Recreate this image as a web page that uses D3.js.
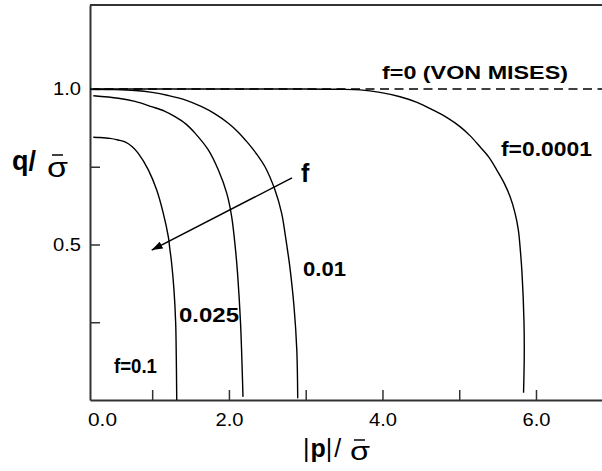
<!DOCTYPE html>
<html><head><meta charset="utf-8">
<script src="https://cdn.jsdelivr.net/npm/d3@7"></script>
<style>body{margin:0;background:#fff}svg{display:block}</style>
</head><body>
<svg id="chart" width="602" height="471"></svg>
<script>
// ---- data (p = |p|/sigma, q = q/sigma) ----
const curveF01P   = [0.233,0.320,0.451,0.555,0.646,0.737,0.819,0.950,1.059,1.145,1.210,1.232,1.249,1.284,1.306,1.314,1.320];
const curveF01Q   = [0.845,0.844,0.841,0.836,0.830,0.815,0.793,0.740,0.675,0.600,0.525,0.482,0.450,0.354,0.248,0.139,0.000];
const curveF0025P = [0.233,0.559,0.776,0.994,1.167,1.297,1.441,1.558,1.731,1.861,1.971,2.036,2.086,2.112,2.151,2.174,2.183];
const curveF0025Q = [0.978,0.970,0.960,0.943,0.928,0.911,0.887,0.858,0.804,0.740,0.665,0.589,0.482,0.408,0.248,0.087,0.010];
const curveF001P  = [0.233,0.516,0.776,0.998,1.210,1.428,1.645,1.818,1.992,2.118,2.252,2.366,2.470,2.600,2.687,2.737,2.763,2.793,2.848,2.884,2.896];
const curveF001Q  = [0.999,0.998,0.995,0.989,0.979,0.965,0.943,0.920,0.890,0.862,0.825,0.789,0.750,0.675,0.600,0.525,0.482,0.429,0.300,0.161,0.006];
const curveF00001P = [0.233,1.623,2.926,3.447,3.708,3.968,4.229,4.450,4.662,4.841,5.010,5.140,5.271,5.388,5.488,5.584,5.662,5.727,5.770,5.796,5.818,5.844,5.847,5.838];
const curveF00001Q = [1.000,1.000,1.000,0.999,0.997,0.989,0.975,0.957,0.932,0.908,0.879,0.850,0.814,0.780,0.740,0.698,0.654,0.601,0.547,0.482,0.408,0.248,0.138,0.023];
const vonMisesQ = 1.0;
const arrowP = [2.822, 0.994];
const arrowQ = [0.714, 0.482];

const xTickValues = [1,2,3,4,5,6];
const xTickLabels = {2:"2.0", 4:"4.0", 6:"6.0"};
const xOriginLabel = "0.0";
const yTickValues = [0.25,0.5,0.75,1.0];
const yTickLabels = {0.5:"0.5", 1:"1.0"};

// ---- drawing ----
const FONT = "'Liberation Sans', Arial, Helvetica, sans-serif";
const svg = d3.select("#chart");
const x = d3.scaleLinear().domain([0.19, 6.86]).range([90, 602]);
const y = d3.scaleLinear().domain([0, 1.27]).range([400, 5]);
const axisColor = "#333";

// y axis
const gy = svg.append("g").attr("transform", `translate(${x.range()[0]},0)`)
  .call(d3.axisLeft(y).tickValues(yTickValues).tickSizeInner(-10).tickSizeOuter(0)
        .tickPadding(9).tickFormat(d => yTickLabels[d] || ""));
// x axis
const gx = svg.append("g").attr("transform", `translate(0,${y.range()[0]})`)
  .call(d3.axisBottom(x).tickValues(xTickValues).tickSizeInner(-10).tickSizeOuter(0)
        .tickPadding(13).tickFormat(d => xTickLabels[d] || ""));

[gx, gy].forEach(g => {
  g.select(".domain").attr("stroke", axisColor).attr("stroke-width", 2);
  g.selectAll(".tick line").attr("stroke", axisColor).attr("stroke-width", 1.5);
  g.selectAll(".tick text").attr("fill", "#000").attr("font-family", FONT).attr("font-size", 18)
    .each(function(){ if (this.textContent) d3.select(this).attr("textLength", 28).attr("lengthAdjust","spacingAndGlyphs"); });
});
// top frame
svg.append("line").attr("x1", x.range()[0]).attr("x2", x.range()[1])
  .attr("y1", y.range()[1]).attr("y2", y.range()[1])
  .attr("stroke", axisColor).attr("stroke-width", 2);

// origin label
svg.append("text").text(xOriginLabel).attr("x", x.range()[0] - 2).attr("y", y.range()[0] + 13)
  .attr("dy", "0.71em").attr("font-family", FONT).attr("font-size", 18)
  .attr("textLength", 29).attr("lengthAdjust","spacingAndGlyphs");

// von Mises dashed line
const line = d3.line().x(d => x(d[0])).y(d => y(d[1]));
svg.append("path").datum([[x.domain()[0], vonMisesQ],[x.domain()[1], vonMisesQ]])
  .attr("d", line).attr("fill","none").attr("stroke","#000").attr("stroke-width",1.3)
  .attr("stroke-dasharray","9,5.5");

// curves
const curves = [
  [curveF01P, curveF01Q],
  [curveF0025P, curveF0025Q],
  [curveF001P, curveF001Q],
  [curveF00001P, curveF00001Q]
];
const curveLine = d3.line().x(d => x(d[0])).y(d => y(d[1])).curve(d3.curveCatmullRom.alpha(0.5));
curves.forEach(([ps, qs]) => {
  svg.append("path").datum(ps.map((p,i) => [p, qs[i]]))
    .attr("d", curveLine).attr("fill","none").attr("stroke","#000").attr("stroke-width",1.4);
});

// arrow
svg.append("defs").append("marker").attr("id","ah")
  .attr("viewBox","0 0 10 7").attr("refX",10).attr("refY",3.5)
  .attr("markerWidth",11).attr("markerHeight",8).attr("markerUnits","userSpaceOnUse")
  .attr("orient","auto").append("path").attr("d","M0,0L10,3.5L0,7Z").attr("fill","#000");
svg.append("line").attr("x1", x(arrowP[0])).attr("y1", y(arrowQ[0]))
  .attr("x2", x(arrowP[1])).attr("y2", y(arrowQ[1]))
  .attr("stroke","#000").attr("stroke-width",1.5).attr("marker-end","url(#ah)");

// annotations
function label(txt, px, py, size, len, weight){
  const t = svg.append("text").text(txt).attr("x", px).attr("y", py)
    .attr("font-family", FONT).attr("font-size", size).attr("font-weight", weight || "bold");
  if (len) t.attr("textLength", len).attr("lengthAdjust","spacingAndGlyphs");
  return t;
}
label("f=0 (VON MISES)", 382, 79, 18, 186);
label("f=0.0001", 501, 156, 20, 91);
label("0.01", 303, 276, 20, 43);
label("0.025", 179, 322, 20, 60);
label("f=0.1", 114, 373, 20, 43);
label("f", 301, 182, 25, null);

// y title  q / sigma-bar
label("q/", 12, 170, 27, null);
label("σ", 47, 177, 28, 21, "normal");
svg.append("line").attr("x1", 52).attr("x2", 63).attr("y1", 155).attr("y2", 155)
  .attr("stroke","#000").attr("stroke-width",1.5);

// x title |p| / sigma-bar
const xt = svg.append("text").attr("x", 303).attr("y", 457).attr("font-family", FONT).attr("font-size", 25);
xt.append("tspan").text("|");
xt.append("tspan").attr("dx", 1).attr("font-weight", "bold").text("p");
xt.append("tspan").attr("dx", 0).text("|");
xt.append("tspan").attr("dx", 2).text("/");
label("σ", 350, 460, 26, 20, "normal");
svg.append("line").attr("x1", 354).attr("x2", 365).attr("y1", 440).attr("y2", 440)
  .attr("stroke","#000").attr("stroke-width",1.5);
</script>
</body></html>
